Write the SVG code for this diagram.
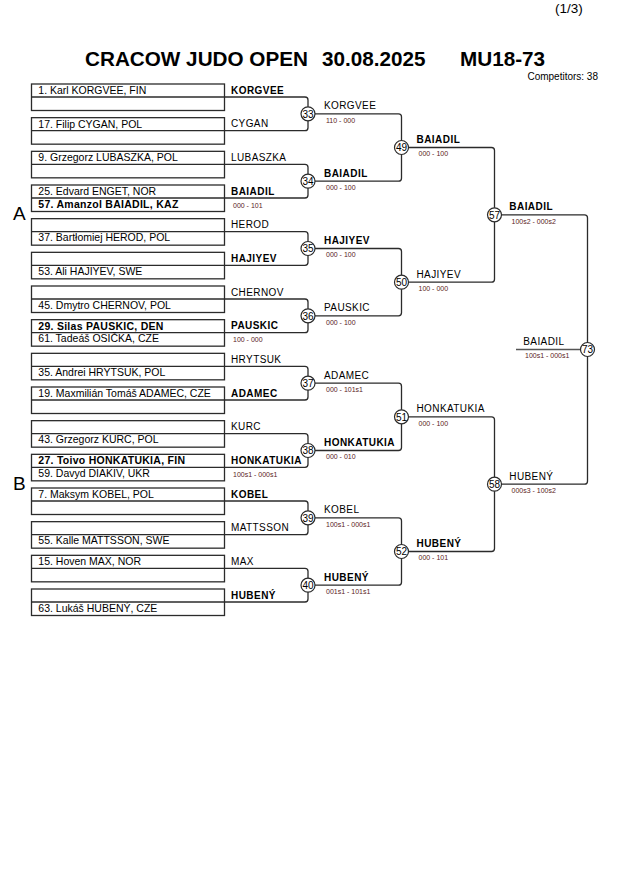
<svg xmlns="http://www.w3.org/2000/svg" width="630" height="891" viewBox="0 0 630 891">
<style>
text{font-family:"Liberation Sans",Arial,sans-serif;fill:#000}
.title{font-size:20.7px;font-weight:bold}
.page{font-size:13.5px}
.comp{font-size:10px}
.ab{font-size:19px}
.box{fill:none;stroke:#2b2b2b;stroke-width:1.3}
.nm{font-size:10.5px}
.nmb{font-size:10.5px;font-weight:bold;letter-spacing:0.27px}
.lb{font-size:10px;letter-spacing:0.4px}
.lbb{font-size:10px;font-weight:bold;letter-spacing:0.45px}
.sc{font-size:7px;fill:#5a2222}
.con{fill:none;stroke:#2b2b2b;stroke-width:1.3}
.cir{fill:#fff;stroke:#2b2b2b;stroke-width:1.2}
.cn{font-size:10px;text-anchor:middle}
</style>
<rect width="630" height="891" fill="#fff"/>
<text class="page" x="555" y="13">(1/3)</text>
<text class="title" x="85" y="65.5">CRACOW JUDO OPEN</text>
<text class="title" x="322" y="65.5">30.08.2025</text>
<text class="title" x="460" y="65.5">MU18-73</text>
<text class="comp" x="598" y="80" text-anchor="end">Competitors: 38</text>
<text class="ab" x="13" y="220">A</text>
<text class="ab" x="13" y="489.5">B</text>

<g id="connectors">
<path class="con" d="M224.5 97H305Q308 97 308 100V127.67Q308 130.67 305 130.67H224.5"/>
<path class="con" d="M224.5 164.33H305Q308 164.33 308 167.33V195Q308 198 305 198H224.5"/>
<path class="con" d="M224.5 231.67H305Q308 231.67 308 234.67V262.33Q308 265.33 305 265.33H224.5"/>
<path class="con" d="M224.5 299H305Q308 299 308 302V329.67Q308 332.67 305 332.67H224.5"/>
<path class="con" d="M224.5 366.33H305Q308 366.33 308 369.33V397Q308 400 305 400H224.5"/>
<path class="con" d="M224.5 433.67H305Q308 433.67 308 436.67V464.33Q308 467.33 305 467.33H224.5"/>
<path class="con" d="M224.5 501H305Q308 501 308 504V531.67Q308 534.67 305 534.67H224.5"/>
<path class="con" d="M224.5 568.33H305Q308 568.33 308 571.33V599Q308 602 305 602H224.5"/>
<path class="con" d="M308 113.83H398.5Q401.5 113.83 401.5 116.83V178.17Q401.5 181.17 398.5 181.17H308"/>
<path class="con" d="M308 248.5H398.5Q401.5 248.5 401.5 251.5V312.83Q401.5 315.83 398.5 315.83H308"/>
<path class="con" d="M308 383.17H398.5Q401.5 383.17 401.5 386.17V447.5Q401.5 450.5 398.5 450.5H308"/>
<path class="con" d="M308 517.83H398.5Q401.5 517.83 401.5 520.83V582.17Q401.5 585.17 398.5 585.17H308"/>
<path class="con" d="M401.5 147.5H491.5Q494.5 147.5 494.5 150.5V279.17Q494.5 282.17 491.5 282.17H401.5"/>
<path class="con" d="M401.5 416.83H491.5Q494.5 416.83 494.5 419.83V548.5Q494.5 551.5 491.5 551.5H401.5"/>
<path class="con" d="M494.5 214.83H584.5Q587.5 214.83 587.5 217.83V481.17Q587.5 484.17 584.5 484.17H494.5"/>
<path class="con" d="M516 349.5H580" style="stroke:#555"/>
</g>

<g id="entry-0"><rect class="box" x="31.5" y="84" width="193" height="26.5"/><line class="box" x1="31.5" y1="97" x2="224.5" y2="97"/><text class="nm" x="38.3" y="94">1. Karl KORGVEE, FIN</text><text class="lbb" x="231" y="93.5">KORGVEE</text></g>
<g id="entry-1"><rect class="box" x="31.5" y="117.67" width="193" height="26.5"/><line class="box" x1="31.5" y1="130.67" x2="224.5" y2="130.67"/><text class="nm" x="38.3" y="127.7">17. Filip CYGAN, POL</text><text class="lb" x="231" y="127.2">CYGAN</text></g>
<g id="entry-2"><rect class="box" x="31.5" y="151.33" width="193" height="26.5"/><line class="box" x1="31.5" y1="164.33" x2="224.5" y2="164.33"/><text class="nm" x="38.3" y="161.3">9. Grzegorz LUBASZKA, POL</text><text class="lb" x="231" y="160.8">LUBASZKA</text></g>
<g id="entry-3"><rect class="box" x="31.5" y="185" width="193" height="26.5"/><line class="box" x1="31.5" y1="198" x2="224.5" y2="198"/><text class="nm" x="38.3" y="195">25. Edvard ENGET, NOR</text><text class="nmb" x="38.3" y="207.7">57. Amanzol BAIADIL, KAZ</text><text class="lbb" x="231" y="194.5">BAIADIL</text><text class="sc" x="233" y="207.5">000 - 101</text></g>
<g id="entry-4"><rect class="box" x="31.5" y="218.67" width="193" height="26.5"/><line class="box" x1="31.5" y1="231.67" x2="224.5" y2="231.67"/><text class="nm" x="38.3" y="241.4">37. Bartłomiej HEROD, POL</text><text class="lb" x="231" y="228.2">HEROD</text></g>
<g id="entry-5"><rect class="box" x="31.5" y="252.33" width="193" height="26.5"/><line class="box" x1="31.5" y1="265.33" x2="224.5" y2="265.33"/><text class="nm" x="38.3" y="275">53. Ali HAJIYEV, SWE</text><text class="lbb" x="231" y="261.8">HAJIYEV</text></g>
<g id="entry-6"><rect class="box" x="31.5" y="286" width="193" height="26.5"/><line class="box" x1="31.5" y1="299" x2="224.5" y2="299"/><text class="nm" x="38.3" y="308.7">45. Dmytro CHERNOV, POL</text><text class="lb" x="231" y="295.5">CHERNOV</text></g>
<g id="entry-7"><rect class="box" x="31.5" y="319.67" width="193" height="26.5"/><line class="box" x1="31.5" y1="332.67" x2="224.5" y2="332.67"/><text class="nmb" x="38.3" y="329.7">29. Silas PAUSKIC, DEN</text><text class="nm" x="38.3" y="342.4">61. Tadeáš OSIČKA, CZE</text><text class="lbb" x="231" y="329.2">PAUSKIC</text><text class="sc" x="233" y="342.2">100 - 000</text></g>
<g id="entry-8"><rect class="box" x="31.5" y="353.33" width="193" height="26.5"/><line class="box" x1="31.5" y1="366.33" x2="224.5" y2="366.33"/><text class="nm" x="38.3" y="376">35. Andrei HRYTSUK, POL</text><text class="lb" x="231" y="362.8">HRYTSUK</text></g>
<g id="entry-9"><rect class="box" x="31.5" y="387" width="193" height="26.5"/><line class="box" x1="31.5" y1="400" x2="224.5" y2="400"/><text class="nm" x="38.3" y="397">19. Maxmilián Tomáš ADAMEC, CZE</text><text class="lbb" x="231" y="396.5">ADAMEC</text></g>
<g id="entry-10"><rect class="box" x="31.5" y="420.67" width="193" height="26.5"/><line class="box" x1="31.5" y1="433.67" x2="224.5" y2="433.67"/><text class="nm" x="38.3" y="443.4">43. Grzegorz KURC, POL</text><text class="lb" x="231" y="430.2">KURC</text></g>
<g id="entry-11"><rect class="box" x="31.5" y="454.33" width="193" height="26.5"/><line class="box" x1="31.5" y1="467.33" x2="224.5" y2="467.33"/><text class="nmb" x="38.3" y="464.3">27. Toivo HONKATUKIA, FIN</text><text class="nm" x="38.3" y="477">59. Davyd DIAKIV, UKR</text><text class="lbb" x="231" y="463.8">HONKATUKIA</text><text class="sc" x="233" y="476.8">100s1 - 000s1</text></g>
<g id="entry-12"><rect class="box" x="31.5" y="488" width="193" height="26.5"/><line class="box" x1="31.5" y1="501" x2="224.5" y2="501"/><text class="nm" x="38.3" y="498">7. Maksym KOBEL, POL</text><text class="lbb" x="231" y="497.5">KOBEL</text></g>
<g id="entry-13"><rect class="box" x="31.5" y="521.67" width="193" height="26.5"/><line class="box" x1="31.5" y1="534.67" x2="224.5" y2="534.67"/><text class="nm" x="38.3" y="544.4">55. Kalle MATTSSON, SWE</text><text class="lb" x="231" y="531.2">MATTSSON</text></g>
<g id="entry-14"><rect class="box" x="31.5" y="555.33" width="193" height="26.5"/><line class="box" x1="31.5" y1="568.33" x2="224.5" y2="568.33"/><text class="nm" x="38.3" y="565.3">15. Hoven MAX, NOR</text><text class="lb" x="231" y="564.8">MAX</text></g>
<g id="entry-15"><rect class="box" x="31.5" y="589" width="193" height="26.5"/><line class="box" x1="31.5" y1="602" x2="224.5" y2="602"/><text class="nm" x="38.3" y="611.7">63. Lukáš HUBENÝ, CZE</text><text class="lbb" x="231" y="598.5">HUBENÝ</text></g>

<g id="match-33"><circle class="cir" cx="308" cy="113.83" r="7"/><text class="cn" x="308" y="117.5">33</text><text class="lb" x="324" y="109.3">KORGVEE</text><text class="sc" x="326" y="122.5">110 - 000</text></g>
<g id="match-34"><circle class="cir" cx="308" cy="181.17" r="7"/><text class="cn" x="308" y="184.8">34</text><text class="lbb" x="324" y="176.7">BAIADIL</text><text class="sc" x="326" y="189.9">000 - 100</text></g>
<g id="match-35"><circle class="cir" cx="308" cy="248.5" r="7"/><text class="cn" x="308" y="252.2">35</text><text class="lbb" x="324" y="244">HAJIYEV</text><text class="sc" x="326" y="257.2">000 - 100</text></g>
<g id="match-36"><circle class="cir" cx="308" cy="315.83" r="7"/><text class="cn" x="308" y="319.5">36</text><text class="lb" x="324" y="311.3">PAUSKIC</text><text class="sc" x="326" y="324.5">000 - 100</text></g>
<g id="match-37"><circle class="cir" cx="308" cy="383.17" r="7"/><text class="cn" x="308" y="386.8">37</text><text class="lb" x="324" y="378.7">ADAMEC</text><text class="sc" x="326" y="391.9">000 - 101s1</text></g>
<g id="match-38"><circle class="cir" cx="308" cy="450.5" r="7"/><text class="cn" x="308" y="454.2">38</text><text class="lbb" x="324" y="446">HONKATUKIA</text><text class="sc" x="326" y="459.2">000 - 010</text></g>
<g id="match-39"><circle class="cir" cx="308" cy="517.83" r="7"/><text class="cn" x="308" y="521.5">39</text><text class="lb" x="324" y="513.3">KOBEL</text><text class="sc" x="326" y="526.5">100s1 - 000s1</text></g>
<g id="match-40"><circle class="cir" cx="308" cy="585.17" r="7"/><text class="cn" x="308" y="588.8">40</text><text class="lbb" x="324" y="580.7">HUBENÝ</text><text class="sc" x="326" y="593.9">001s1 - 101s1</text></g>

<g id="match-49"><circle class="cir" cx="401.5" cy="147.5" r="7"/><text class="cn" x="401.5" y="151.2">49</text><text class="lbb" x="416.5" y="143">BAIADIL</text><text class="sc" x="418.5" y="156.2">000 - 100</text></g>
<g id="match-50"><circle class="cir" cx="401.5" cy="282.17" r="7"/><text class="cn" x="401.5" y="285.8">50</text><text class="lb" x="416.5" y="277.7">HAJIYEV</text><text class="sc" x="418.5" y="290.9">100 - 000</text></g>
<g id="match-51"><circle class="cir" cx="401.5" cy="416.83" r="7"/><text class="cn" x="401.5" y="420.5">51</text><text class="lb" x="416.5" y="412.3">HONKATUKIA</text><text class="sc" x="418.5" y="425.5">000 - 100</text></g>
<g id="match-52"><circle class="cir" cx="401.5" cy="551.5" r="7"/><text class="cn" x="401.5" y="555.2">52</text><text class="lbb" x="416.5" y="547">HUBENÝ</text><text class="sc" x="418.5" y="560.2">000 - 101</text></g>

<g id="match-57"><circle class="cir" cx="494.5" cy="214.83" r="7"/><text class="cn" x="494.5" y="218.5">57</text><text class="lbb" x="509.3" y="210.3">BAIADIL</text><text class="sc" x="511.5" y="223.5">100s2 - 000s2</text></g>
<g id="match-58"><circle class="cir" cx="494.5" cy="484.17" r="7"/><text class="cn" x="494.5" y="487.8">58</text><text class="lb" x="509.3" y="479.7">HUBENÝ</text><text class="sc" x="511.5" y="492.9">000s3 - 100s2</text></g>

<g id="match-73"><circle class="cir" cx="587.5" cy="349.5" r="7"/><text class="cn" x="587.5" y="353.2">73</text><text class="lb" x="523.3" y="344.5">BAIADIL</text><text class="sc" x="525" y="358">100s1 - 000s1</text></g>
</svg>
